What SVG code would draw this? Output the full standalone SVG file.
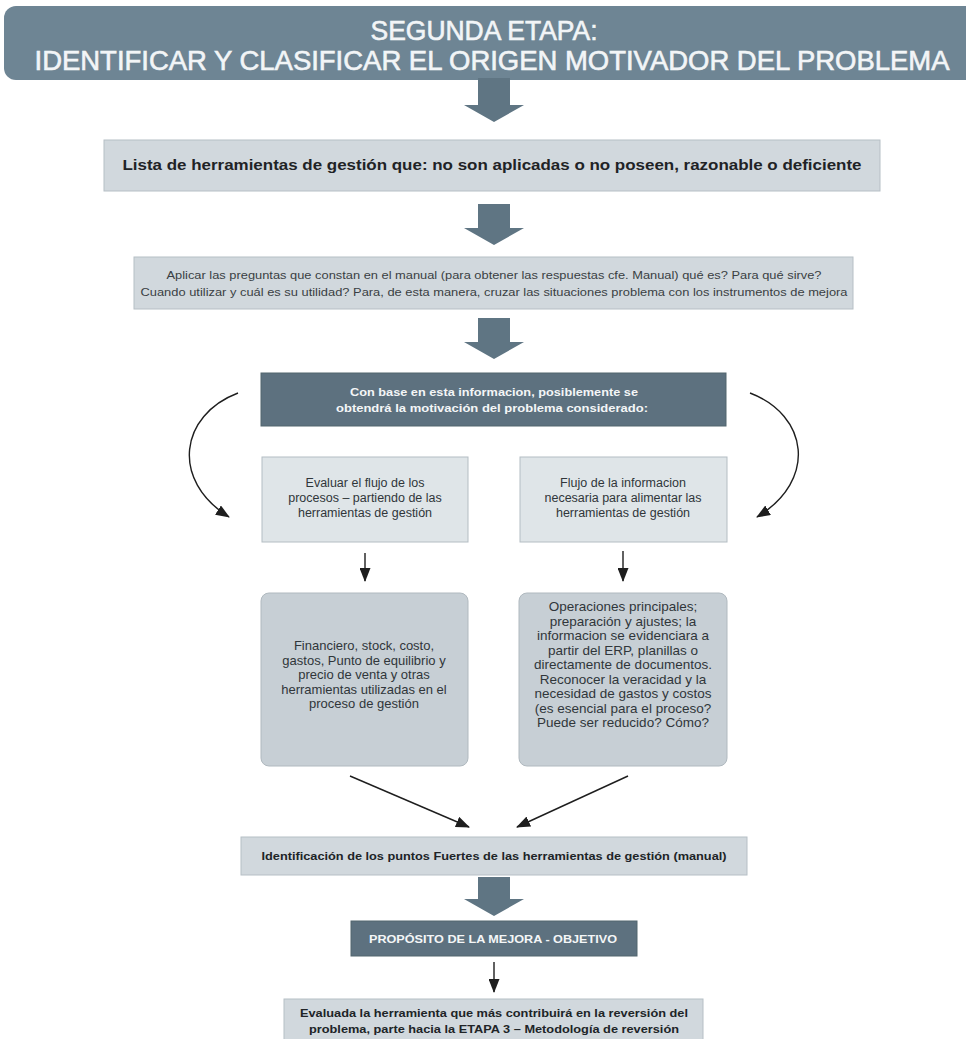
<svg xmlns="http://www.w3.org/2000/svg" width="966" height="1039" viewBox="0 0 966 1039">
<style>
  text { font-family: "Liberation Sans", Arial, sans-serif; text-anchor: middle; }
  .hdr { fill: #f2f5f7; font-size: 27px; stroke: #f2f5f7; stroke-width: 0.6; }
  .b1 { fill: #1f2326; font-size: 15px; font-weight: bold; }
  .sm { fill: #3a3f43; font-size: 11.5px; }
  .wt { fill: #f4f6f7; font-size: 11px; font-weight: bold; }
  .md { fill: #30363a; font-size: 12.5px; }
  .lg { fill: #30363a; font-size: 13px; }
  .lgr { fill: #30363a; font-size: 13.5px; }
  .bd { fill: #202427; font-size: 11.5px; font-weight: bold; }
  .box { fill: #d1d8dd; stroke: #b6bfc5; stroke-width: 1; }
  .lbox { fill: #dfe5e8; stroke: #b4bdc3; stroke-width: 1; }
  .rbox { fill: #c7cfd5; stroke: #b0b9bf; stroke-width: 1; }
  .dbox { fill: #5d717f; stroke: #53666f; stroke-width: 1; }
  .big { fill: #5f7583; }
  .ln { fill: none; stroke: #1e1e1e; stroke-width: 1.4; }
</style>
<defs>
  <marker id="ah" viewBox="0 0 14 11" refX="13" refY="5.5" markerWidth="14" markerHeight="11" markerUnits="userSpaceOnUse" orient="auto">
    <path d="M0,0 L14,5.5 L0,11 Z" fill="#1e1e1e"/>
  </marker>
</defs>
<rect width="966" height="1039" fill="#ffffff"/>

<g id="header">
  <rect x="4" y="6" width="990" height="74" rx="12" fill="#6e8594"/>
  <text class="hdr" x="484" y="40" textLength="227" lengthAdjust="spacingAndGlyphs">SEGUNDA ETAPA:</text>
  <text class="hdr" x="492" y="70" font-size="28" textLength="915" lengthAdjust="spacingAndGlyphs">IDENTIFICAR Y CLASIFICAR EL ORIGEN MOTIVADOR DEL PROBLEMA</text>
</g>

<g id="connectors">
  <path class="big" d="M478,78 H510 V105 H524 L494,122 L464,105 H478 Z"/>
  <path class="big" d="M478,204 H510 V228 H524 L494,245 L464,228 H478 Z"/>
  <path class="big" d="M478,318 H510 V342 H524 L494,359 L464,342 H478 Z"/>
  <path class="big" d="M478,877 H510 V899 H524 L494,916 L464,899 H478 Z"/>
  <path class="ln" d="M238,393 C180,415 170,480 229,517" marker-end="url(#ah)"/>
  <path class="ln" d="M750,393 C808,415 818,480 757,517" marker-end="url(#ah)"/>
  <path class="ln" d="M365,553 V581" marker-end="url(#ah)"/>
  <path class="ln" d="M623,551 V581" marker-end="url(#ah)"/>
  <path class="ln" d="M350,776 L469,827" marker-end="url(#ah)"/>
  <path class="ln" d="M628,776 L517,827" marker-end="url(#ah)"/>
  <path class="ln" d="M494,962 V992" marker-end="url(#ah)"/>
</g>

<g id="lista">
  <rect class="box" x="104" y="140" width="776" height="51"/>
  <text class="b1" x="492" y="170" textLength="739" lengthAdjust="spacingAndGlyphs">Lista de herramientas de gestión que: no son aplicadas o no poseen, razonable o deficiente</text>
</g>

<g id="aplicar">
  <rect class="box" x="134" y="257" width="719" height="52" fill="#cdd5da"/>
  <text class="sm" x="494" y="279" textLength="655" lengthAdjust="spacingAndGlyphs">Aplicar las preguntas que constan en el manual (para obtener las respuestas cfe. Manual) qué es? Para qué sirve?</text>
  <text class="sm" x="494" y="296" textLength="707" lengthAdjust="spacingAndGlyphs">Cuando utilizar y cuál es su utilidad? Para, de esta manera, cruzar las situaciones problema con los instrumentos de mejora</text>
</g>

<g id="con-base">
  <rect class="dbox" x="261" y="373" width="465" height="53"/>
  <text class="wt" x="494" y="396" textLength="288" lengthAdjust="spacingAndGlyphs">Con base en esta informacion, posiblemente se</text>
  <text class="wt" x="492" y="412" textLength="312" lengthAdjust="spacingAndGlyphs">obtendrá la motivación del problema considerado:</text>
</g>

<g id="evaluar-flujo">
  <rect class="lbox" x="262" y="457" width="206" height="85"/>
  <text class="md" x="365" y="487">Evaluar el flujo de los</text>
  <text class="md" x="365" y="502">procesos – partiendo de las</text>
  <text class="md" x="365" y="517">herramientas de gestión</text>
</g>

<g id="flujo-informacion">
  <rect class="lbox" x="520" y="457" width="207" height="85"/>
  <text class="md" x="623" y="487">Flujo de la informacion</text>
  <text class="md" x="623" y="502">necesaria para alimentar las</text>
  <text class="md" x="623" y="517">herramientas de gestión</text>
</g>

<g id="financiero">
  <rect class="rbox" x="261" y="593" width="207" height="173" rx="8"/>
  <text class="lg" x="364" y="650">Financiero, stock, costo,</text>
  <text class="lg" x="364" y="664.5">gastos,  Punto de equilibrio y</text>
  <text class="lg" x="364" y="679">precio de venta y otras</text>
  <text class="lg" x="364" y="693.5">herramientas utilizadas en el</text>
  <text class="lg" x="364" y="708">proceso de gestión</text>
</g>

<g id="operaciones">
  <rect class="rbox" x="519" y="593" width="208" height="173" rx="8"/>
  <text class="lgr" x="623" y="611">Operaciones principales;</text>
  <text class="lgr" x="623" y="625.5">preparación y ajustes; la</text>
  <text class="lgr" x="623" y="640">informacion se evidenciara a</text>
  <text class="lgr" x="623" y="654.5">partir del ERP, planillas o</text>
  <text class="lgr" x="623" y="669">directamente de documentos.</text>
  <text class="lgr" x="623" y="683.5">Reconocer la veracidad y la</text>
  <text class="lgr" x="623" y="698">necesidad de gastos y costos</text>
  <text class="lgr" x="623" y="712.5">(es esencial para el proceso?</text>
  <text class="lgr" x="623" y="727">Puede ser reducido? Cómo?</text>
</g>

<g id="identificacion">
  <rect class="box" x="241" y="837" width="506" height="38"/>
  <text class="bd" x="494" y="860" textLength="465" lengthAdjust="spacingAndGlyphs">Identificación de los puntos Fuertes de las herramientas de gestión (manual)</text>
</g>

<g id="proposito">
  <rect class="dbox" x="351" y="921" width="286" height="35"/>
  <text class="wt" x="493" y="943" textLength="248" lengthAdjust="spacingAndGlyphs">PROPÓSITO DE LA MEJORA - OBJETIVO</text>
</g>

<g id="evaluada">
  <rect class="box" x="284" y="999" width="419" height="46" fill="#d6dce0"/>
  <text class="bd" x="494" y="1017" textLength="388" lengthAdjust="spacingAndGlyphs">Evaluada la herramienta que más contribuirá en la reversión del</text>
  <text class="bd" x="494" y="1033" textLength="370" lengthAdjust="spacingAndGlyphs">problema, parte hacia la ETAPA 3 – Metodología de reversión</text>
</g>
</svg>
